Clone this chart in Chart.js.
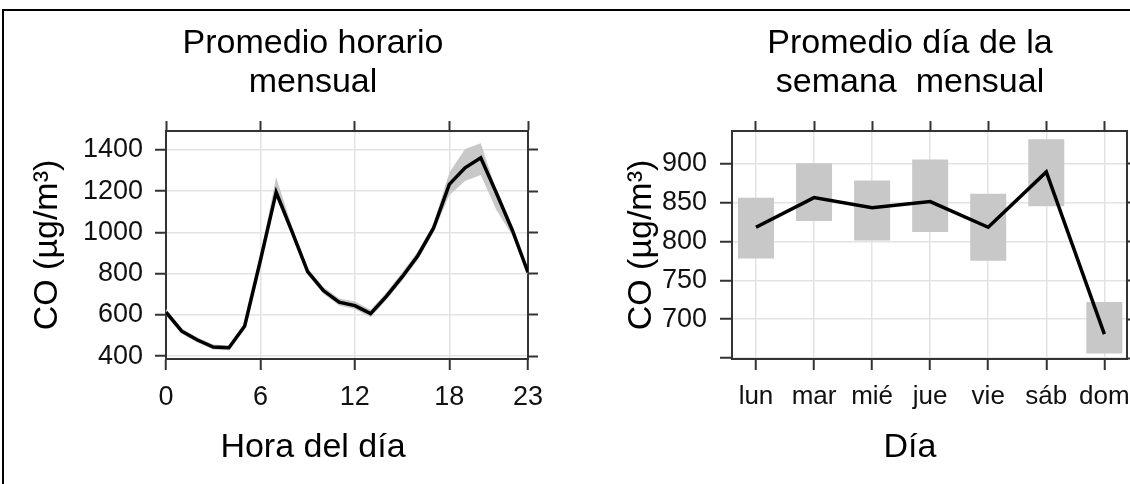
<!DOCTYPE html>
<html>
<head>
<meta charset="utf-8">
<script src="https://cdn.jsdelivr.net/npm/chart.js@4"></script>
<style>
  html, body { margin: 0; padding: 0; background: #fff; overflow: hidden; }
  body { width: 1130px; height: 484px; position: relative; }
  #frame { position: absolute; left: 2px; top: 9px; width: 1200px; height: 500px;
           border-top: 2px solid #000; border-left: 2px solid #000; }
  canvas { position: absolute; top: 0; }
  #hourly { left: 0; }
  #weekly { left: 610px; }
</style>
</head>
<body>
<div id="frame"></div>
<canvas id="hourly" width="626" height="484"></canvas>
<canvas id="weekly" width="600" height="484"></canvas>
<script>
"use strict";

// hourly means (left panel)
var hours = [0, 1, 2, 3, 4, 5, 6, 7, 8, 9, 10, 11, 12, 13, 14, 15, 16, 17, 18, 19, 20, 21, 22, 23];
var co_hour = [613, 521, 478, 444, 441, 546, 865, 1195, 1005, 810, 718, 662, 645, 606, 690, 784, 887, 1021, 1233, 1313, 1362, 1190, 1012, 806];
var co_hour_low = [598, 508, 466, 432, 428, 530, 845, 1170, 985, 795, 702, 645, 628, 588, 672, 765, 868, 1000, 1180, 1250, 1278, 1108, 985, 795];
var co_hour_high = [628, 534, 490, 456, 452, 560, 890, 1268, 1030, 828, 735, 680, 665, 625, 708, 805, 908, 1042, 1290, 1405, 1432, 1200, 1025, 815];
var hour_ticks = [0, 6, 12, 18, 23];
var hour_y_ticks = [400, 600, 800, 1000, 1200, 1400];

// day of week means (right panel)
var days = ["lun", "mar", "mié", "jue", "vie", "sáb", "dom"];
var co_day = [818, 856, 843, 851, 818, 889, 681];
var co_day_low = [778, 826, 801, 812, 775, 845, 656];
var co_day_high = [856, 900, 878, 905, 861, 931, 722];
var day_ticks = [0, 1, 2, 3, 4, 5, 6];
var day_y_ticks = [650, 700, 750, 800, 850, 900];

var font_family = "'Liberation Sans', Arial, sans-serif";
var ink = "#111";
var frame_color = "#333";
var grid_color = "#e3e3e3";
var band_color = "#c8c8c8";

function fixed_ticks(values) {
  return function(axis) {
    axis.ticks = values.map(function(v) { return {value: v}; });
  };
}
function fixed_width(w) { return function(axis) { axis.width = w; }; }
function fixed_height(h) { return function(axis) { axis.height = h; }; }

function box_axis(pos, min, max, ticks, size) {
  var horizontal = (pos === "top" || pos === "bottom");
  return {
    type: "linear",
    position: pos,
    min: min,
    max: max,
    afterBuildTicks: fixed_ticks(ticks),
    afterFit: horizontal ? fixed_height(size) : fixed_width(size),
    grid: { drawOnChartArea: false, tickColor: frame_color, tickLength: 10, tickWidth: 2 },
    border: { color: frame_color, width: 2 },
    ticks: { display: false }
  };
}

function title_opts(lines) {
  return {
    display: true,
    text: lines,
    color: "#000",
    font: { family: font_family, size: 34, weight: "normal", lineHeight: 1.15 },
    padding: { top: 24, bottom: 0 }
  };
}

function footer_opts(text) {
  return {
    display: true,
    position: "bottom",
    text: text,
    color: "#000",
    font: { family: font_family, size: 34, weight: "normal", lineHeight: 1.2 },
    padding: { top: 0, bottom: 16 }
  };
}

function y_title(pad) {
  return {
    display: true,
    text: "CO (µg/m³)",
    color: "#000",
    font: { family: font_family, size: 34, weight: "normal", lineHeight: 1.2 },
    padding: { top: pad, bottom: 0 }
  };
}

function plain(v) { return v; }

function init_hourly(canvas) {
  var mean = hours.map(function(h, i) { return {x: h, y: co_hour[i]}; });
  var low = hours.map(function(h, i) { return {x: h, y: co_hour_low[i]}; });
  var high = hours.map(function(h, i) { return {x: h, y: co_hour_high[i]}; });
  return new Chart(canvas, {
    type: "line",
    data: {
      datasets: [
        { data: mean, borderColor: "#000", borderWidth: 3.5, pointRadius: 0, fill: false },
        { data: low, borderWidth: 0, borderColor: "rgba(0,0,0,0)", pointRadius: 0, fill: false },
        { data: high, borderWidth: 0, borderColor: "rgba(0,0,0,0)", pointRadius: 0,
          fill: 1, backgroundColor: band_color }
      ]
    },
    options: {
      responsive: false,
      animation: false,
      events: [],
      plugins: {
        legend: { display: false },
        tooltip: { enabled: false },
        title: title_opts(["Promedio horario", "mensual"]),
        subtitle: footer_opts("Hora del día")
      },
      scales: {
        x: {
          type: "linear", position: "bottom", min: 0, max: 23,
          afterBuildTicks: fixed_ticks(hour_ticks),
          afterFit: fixed_height(68.2),
          grid: { color: grid_color, lineWidth: 1.5, tickColor: frame_color, tickLength: 11, tickWidth: 2 },
          border: { color: frame_color, width: 2 },
          ticks: { color: ink, font: { family: font_family, size: 27 }, padding: 11,
                   maxRotation: 0, autoSkip: false, callback: plain }
        },
        x2: box_axis("top", 0, 23, hour_ticks, 28.8),
        y: {
          type: "linear", position: "left", min: 386, max: 1492,
          afterBuildTicks: fixed_ticks(hour_y_ticks),
          afterFit: fixed_width(166),
          grid: { color: grid_color, lineWidth: 1.5, tickColor: frame_color, tickLength: 11, tickWidth: 2 },
          border: { color: frame_color, width: 2 },
          title: y_title(27),
          ticks: { color: ink, font: { family: font_family, size: 27 }, padding: 12, callback: plain }
        },
        y2: box_axis("right", 386, 1492, hour_y_ticks, 98)
      }
    }
  });
}

function init_weekly(canvas) {
  var mean = days.map(function(d, i) { return {x: i, y: co_day[i]}; });
  var range = days.map(function(d, i) { return {x: i, y: [co_day_low[i], co_day_high[i]]}; });
  return new Chart(canvas, {
    type: "line",
    data: {
      datasets: [
        { data: mean, borderColor: "#000", borderWidth: 3.5, pointRadius: 0, fill: false, order: 0 },
        { type: "bar", data: range, backgroundColor: band_color, borderWidth: 0,
          barPercentage: 0.62, categoryPercentage: 1, order: 1 }
      ]
    },
    options: {
      responsive: false,
      animation: false,
      events: [],
      plugins: {
        legend: { display: false },
        tooltip: { enabled: false },
        title: title_opts(["Promedio día de la", "semana  mensual"]),
        subtitle: footer_opts("Día")
      },
      scales: {
        x: {
          type: "linear", position: "bottom", min: -0.413, max: 6.39, offset: false,
          afterBuildTicks: fixed_ticks(day_ticks),
          afterFit: fixed_height(68.2),
          grid: { color: grid_color, lineWidth: 1.5, offset: false, tickColor: frame_color, tickLength: 11, tickWidth: 2 },
          border: { color: frame_color, width: 2 },
          ticks: { color: ink, font: { family: font_family, size: 26 }, padding: 11,
                   maxRotation: 0, autoSkip: false,
                   callback: function(v) { return days[v]; } }
        },
        x2: box_axis("top", -0.413, 6.39, day_ticks, 28.8),
        y: {
          type: "linear", position: "left", min: 649, max: 941.5,
          afterBuildTicks: fixed_ticks(day_y_ticks),
          afterFit: fixed_width(122),
          grid: { color: grid_color, lineWidth: 1.5, tickColor: frame_color, tickLength: 12, tickWidth: 2 },
          border: { color: frame_color, width: 2 },
          title: y_title(11),
          ticks: { color: ink, font: { family: font_family, size: 27 }, padding: 13,
                   callback: function(v, i) { return i === 0 ? "" : v; } }
        },
        y2: box_axis("right", 649, 941.5, day_y_ticks, 83)
      }
    }
  });
}

init_hourly(document.getElementById("hourly"));
init_weekly(document.getElementById("weekly"));
</script>
</body>
</html>
